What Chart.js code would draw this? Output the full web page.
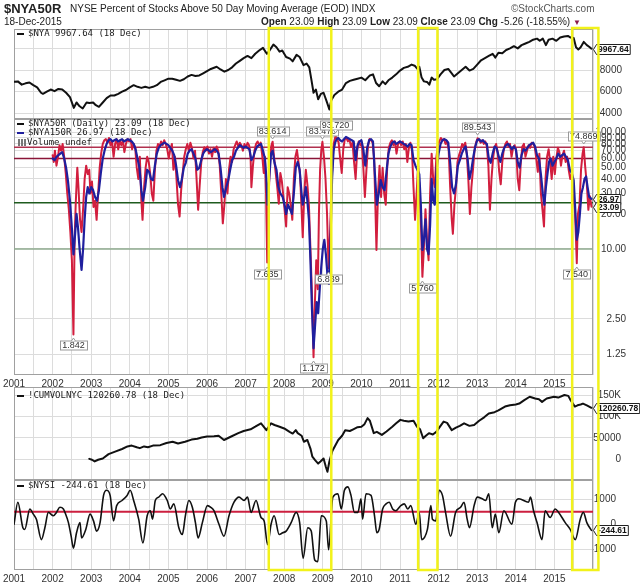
<!DOCTYPE html>
<html>
<head>
<meta charset="utf-8">
<script src="https://cdn.jsdelivr.net/npm/chart.js@4.4.1/dist/chart.umd.min.js"></script>
<style>
body { margin: 0; background: #fff; }
#wrap { position: relative; width: 640px; height: 584px; overflow: hidden; background: #fff;
        font-family: 'Liberation Sans', Arial, sans-serif; color: #222; }
canvas { position: absolute; left: 0; }
.t { position: absolute; white-space: nowrap; line-height: 10px; font-size: 10px; }
.leg { position: absolute; white-space: nowrap; font: 9px/9px 'DejaVu Sans Mono', monospace; color: #222; }
.dash { display: inline-block; width: 7px; height: 2px; background: #111; vertical-align: middle; margin-right: 4px; }
.vol { display: inline-block; width: 8px; height: 7px; margin-right: 1px; vertical-align: -1px;
       background: linear-gradient(90deg, #777 0 2px, transparent 2px 3px, #777 3px 5px, transparent 5px 6px, #777 6px 8px); }
</style>
</head>
<body>
<div id="wrap">
  <canvas id="c1"></canvas>
  <canvas id="c2"></canvas>
  <canvas id="c3"></canvas>
  <canvas id="c4"></canvas>
  <canvas id="ov" width="640" height="584" style="top:0"></canvas>

  <div class="t" style="left:4px;top:2px;font-size:13px;line-height:13px;font-weight:bold;">$NYA50R</div>
  <div class="t" style="left:70px;top:4px;">NYSE Percent of Stocks Above 50 Day Moving Average (EOD) INDX</div>
  <div class="t" style="left:511px;top:4px;color:#555;">©StockCharts.com</div>
  <div class="t" style="left:4px;top:17px;">18-Dec-2015</div>
  <div class="t" style="left:261px;top:17px;"><b>Open</b> 23.09 <b>High</b> 23.09 <b>Low</b> 23.09 <b>Close</b> 23.09 <b>Chg</b> -5.26 (-18.55%) <span style="color:#8b1a4a;font-size:8px">▼</span></div>

  <div class="leg" style="left:17px;top:29px;"><span class="dash"></span>$NYA 9967.64 (18 Dec)</div>
  <div class="leg" style="left:17px;top:119px;"><span class="dash"></span>$NYA50R (Daily) 23.09 (18 Dec)</div>
  <div class="leg" style="left:17px;top:128px;"><span class="dash" style="background:#1f1f9e"></span>$NYA150R 26.97 (18 Dec)</div>
  <div class="leg" style="left:18px;top:138px;"><span class="vol"></span>Volume undef</div>
  <div class="leg" style="left:17px;top:391px;"><span class="dash"></span>!CUMVOLNYC 120260.78 (18 Dec)</div>
  <div class="leg" style="left:17px;top:481px;"><span class="dash"></span>$NYSI -244.61 (18 Dec)</div>
</div>

<script>
// ---- data ----
const yearTicks = [2001, 2002, 2003, 2004, 2005, 2006, 2007, 2008, 2009, 2010, 2011, 2012, 2013, 2014, 2015, 2016];
const yearLabels = ['2001', '2002', '2003', '2004', '2005', '2006', '2007', '2008', '2009', '2010', '2011', '2012', '2013', '2014', '2015', ''];

// $NYA
const nyaYears = [
  2001.00, 2001.10, 2001.20, 2001.30, 2001.40, 2001.50, 2001.60, 2001.70, 2001.75, 2001.85, 2001.95,
  2002.05, 2002.15, 2002.25, 2002.35, 2002.45, 2002.55, 2002.62, 2002.70, 2002.78, 2002.88, 2002.95,
  2003.05, 2003.12, 2003.20, 2003.30, 2003.40, 2003.50, 2003.60, 2003.70, 2003.80, 2003.90,
  2004.00, 2004.10, 2004.20, 2004.30, 2004.40, 2004.50, 2004.60, 2004.70, 2004.80, 2004.90,
  2005.00, 2005.10, 2005.20, 2005.30, 2005.40, 2005.50, 2005.60, 2005.70, 2005.80, 2005.90,
  2006.00, 2006.10, 2006.25, 2006.35, 2006.45, 2006.55, 2006.65, 2006.75, 2006.85, 2006.95,
  2007.05, 2007.15, 2007.25, 2007.35, 2007.45, 2007.55, 2007.62, 2007.72, 2007.80, 2007.88, 2007.95,
  2008.05, 2008.15, 2008.22, 2008.32, 2008.40, 2008.50, 2008.58, 2008.65, 2008.70, 2008.76, 2008.82, 2008.88, 2008.95,
  2009.02, 2009.10, 2009.17, 2009.22, 2009.30, 2009.40, 2009.50, 2009.60, 2009.70, 2009.80, 2009.90,
  2010.00, 2010.10, 2010.22, 2010.30, 2010.38, 2010.46, 2010.55, 2010.62, 2010.70, 2010.80, 2010.90,
  2011.00, 2011.10, 2011.20, 2011.30, 2011.38, 2011.45, 2011.50, 2011.56, 2011.62, 2011.70, 2011.76, 2011.82, 2011.88, 2011.96,
  2012.05, 2012.15, 2012.25, 2012.35, 2012.40, 2012.50, 2012.60, 2012.70, 2012.80, 2012.90,
  2013.00, 2013.10, 2013.20, 2013.30, 2013.40, 2013.47, 2013.55, 2013.65, 2013.75, 2013.85, 2013.95,
  2014.05, 2014.15, 2014.25, 2014.35, 2014.45, 2014.55, 2014.62, 2014.70, 2014.78, 2014.85, 2014.95,
  2015.05, 2015.15, 2015.25, 2015.35, 2015.42, 2015.50, 2015.56, 2015.62, 2015.68, 2015.76, 2015.84, 2015.90, 2015.96
];
const nyaValues = [
  6920, 6950, 6650, 6770, 6850, 6600, 6400, 5900, 5800, 6000, 6200,
  6050, 6250, 6200, 5900, 5500, 4500, 5000, 4650, 4450, 5000, 4950,
  5000, 4750, 4600, 5000, 5400, 5650, 5650, 5800, 6000, 6150,
  6400, 6600, 6450, 6350, 6450, 6350, 6450, 6600, 6900, 7050,
  7200, 7200, 7100, 7000, 7150, 7400, 7550, 7450, 7500, 7700,
  7900, 8100, 8300, 8050, 7850, 8000, 8250, 8600, 8850, 9100,
  9300, 9100, 9500, 9800, 10050, 9500, 9800, 10350, 10100, 9700, 9800,
  9200, 9050, 8800, 9400, 9200, 8450, 8600, 8250, 7200, 5900, 6200, 5300, 5800,
  5900, 5100, 4350, 5200, 5700, 6000, 6200, 6800, 7000, 7100, 7200,
  7300, 7050, 7500, 7600, 6800, 6500, 6950, 6700, 7050, 7300, 7600,
  7950, 8200, 8300, 8500, 8400, 8100, 8300, 7300, 6950, 6900, 6650, 7300, 7100, 7150,
  7600, 8000, 8100, 7650, 7400, 7700, 8000, 8300, 7950, 8100,
  8500, 8900, 9100, 9300, 9500, 9150, 9600, 9550, 9850, 10000, 10200,
  10000, 10300, 10450, 10600, 10800, 10900, 10700, 10900, 10300, 10800, 10900,
  10700, 11000, 11100, 11150, 11000, 10950, 10100, 9900, 10100, 10600, 10300, 10150, 9967.64
];

// $NYA50R (red)
const r50Years = [
  2002.00, 2002.03, 2002.06, 2002.10, 2002.14, 2002.18, 2002.22, 2002.26, 2002.30, 2002.34, 2002.38, 2002.42, 2002.46, 2002.50,
  2002.54, 2002.57, 2002.60, 2002.64, 2002.67, 2002.71, 2002.75, 2002.79, 2002.83, 2002.87, 2002.91, 2002.95, 2002.98,
  2003.02, 2003.06, 2003.10, 2003.14, 2003.18, 2003.22, 2003.26, 2003.30, 2003.34, 2003.38, 2003.42, 2003.46, 2003.50,
  2003.54, 2003.58, 2003.62, 2003.66, 2003.70, 2003.74, 2003.78, 2003.82, 2003.86, 2003.90, 2003.94, 2003.98,
  2004.02, 2004.06, 2004.10, 2004.14, 2004.18, 2004.22, 2004.26, 2004.30, 2004.33, 2004.37, 2004.41, 2004.45, 2004.49,
  2004.53, 2004.57, 2004.61, 2004.65, 2004.69, 2004.73, 2004.77, 2004.81, 2004.85, 2004.89, 2004.93, 2004.97,
  2005.01, 2005.05, 2005.09, 2005.13, 2005.17, 2005.21, 2005.25, 2005.29, 2005.33, 2005.37, 2005.41, 2005.45, 2005.49,
  2005.53, 2005.57, 2005.61, 2005.65, 2005.69, 2005.73, 2005.77, 2005.81, 2005.85, 2005.89, 2005.93, 2005.97,
  2006.01, 2006.05, 2006.09, 2006.13, 2006.17, 2006.21, 2006.25, 2006.29, 2006.33, 2006.37, 2006.41, 2006.45, 2006.49,
  2006.53, 2006.57, 2006.61, 2006.65, 2006.69, 2006.73, 2006.77, 2006.81, 2006.85, 2006.89, 2006.93, 2006.97,
  2007.01, 2007.05, 2007.09, 2007.13, 2007.15, 2007.19, 2007.23, 2007.27, 2007.31, 2007.35, 2007.39, 2007.43, 2007.47,
  2007.50, 2007.53, 2007.56, 2007.59, 2007.63, 2007.67, 2007.70, 2007.74, 2007.78, 2007.82, 2007.86, 2007.90, 2007.94, 2007.98,
  2008.02, 2008.05, 2008.09, 2008.13, 2008.17, 2008.21, 2008.25, 2008.29, 2008.33, 2008.37, 2008.41, 2008.45, 2008.48,
  2008.52, 2008.56, 2008.60, 2008.64, 2008.68, 2008.72, 2008.76, 2008.79, 2008.83, 2008.87, 2008.90, 2008.93, 2008.96, 2008.99,
  2009.03, 2009.07, 2009.11, 2009.15, 2009.19, 2009.23, 2009.28, 2009.33, 2009.37, 2009.41, 2009.45, 2009.49,
  2009.53, 2009.57, 2009.61, 2009.65, 2009.69, 2009.73, 2009.77, 2009.81, 2009.85, 2009.89, 2009.93, 2009.97,
  2010.01, 2010.05, 2010.09, 2010.13, 2010.17, 2010.21, 2010.25, 2010.29, 2010.33, 2010.36, 2010.39, 2010.43, 2010.47,
  2010.51, 2010.55, 2010.59, 2010.63, 2010.67, 2010.71, 2010.75, 2010.79, 2010.83, 2010.87, 2010.91, 2010.95, 2010.99,
  2011.03, 2011.07, 2011.11, 2011.15, 2011.19, 2011.23, 2011.27, 2011.31, 2011.35, 2011.39, 2011.43, 2011.47, 2011.51,
  2011.55, 2011.58, 2011.62, 2011.66, 2011.70, 2011.74, 2011.78, 2011.82, 2011.86, 2011.90, 2011.94, 2011.98,
  2012.02, 2012.06, 2012.10, 2012.14, 2012.18, 2012.22, 2012.26, 2012.30, 2012.34, 2012.37, 2012.41, 2012.45, 2012.49,
  2012.53, 2012.57, 2012.61, 2012.65, 2012.69, 2012.73, 2012.77, 2012.81, 2012.85, 2012.89, 2012.93, 2012.97,
  2013.01, 2013.05, 2013.09, 2013.13, 2013.17, 2013.21, 2013.25, 2013.29, 2013.33, 2013.37, 2013.41, 2013.45, 2013.49,
  2013.53, 2013.57, 2013.61, 2013.65, 2013.69, 2013.73, 2013.77, 2013.81, 2013.85, 2013.89, 2013.93, 2013.97,
  2014.01, 2014.05, 2014.09, 2014.13, 2014.17, 2014.21, 2014.25, 2014.29, 2014.33, 2014.37, 2014.41, 2014.45, 2014.49,
  2014.53, 2014.57, 2014.61, 2014.65, 2014.69, 2014.73, 2014.77, 2014.81, 2014.85, 2014.89, 2014.93, 2014.97,
  2015.01, 2015.05, 2015.09, 2015.13, 2015.17, 2015.21, 2015.25, 2015.29, 2015.33, 2015.37, 2015.41, 2015.45, 2015.49,
  2015.53, 2015.56, 2015.58, 2015.61, 2015.65, 2015.69, 2015.73, 2015.76, 2015.80, 2015.84, 2015.88, 2015.92, 2015.96
];
const r50Values = [
  64, 56, 70, 52, 62, 78, 70, 80, 62, 45, 30, 22, 14, 8,
  1.842, 12, 25, 50, 34, 18, 14, 22, 40, 52, 44, 48, 30,
  38, 23, 26, 17.8, 30, 50, 67, 80, 86, 88, 82, 90, 78,
  84, 62, 80, 88, 72, 85, 78, 86, 68, 80, 88, 84,
  88, 72, 80, 74, 50, 40, 62, 26, 17.8, 34, 50, 62, 56,
  44, 30, 26, 48, 70, 80, 76, 84, 78, 86, 80, 72,
  60, 72, 80, 48, 62, 40, 24, 19, 32, 45, 62, 72, 80,
  70, 82, 74, 60, 70, 40, 21.7, 35, 55, 68, 75, 70,
  76, 66, 72, 62, 74, 68, 76, 70, 52, 30, 16.6, 24, 40,
  30, 48, 62, 56, 72, 78, 84, 76, 82, 78, 70, 80,
  74, 82, 78, 60, 34, 52, 70, 80, 84, 78, 82, 64, 45,
  62, 30, 7.635, 24, 56, 78, 83.614, 60, 45, 34, 24.5, 45, 38, 28,
  20, 15.6, 34, 30, 24, 17.8, 40, 62, 71, 56, 44, 22, 12.6,
  30, 48, 36, 24, 10, 4, 1.172, 3, 8, 4.5, 20, 48, 70, 83.47,
  62, 40, 20, 6.839, 14, 40, 80, 93.72, 88, 82, 60, 45,
  72, 88, 90, 84, 88, 76, 82, 56, 40, 70, 84, 78,
  82, 50, 28, 48, 76, 88, 86, 82, 60, 25, 9.8, 30, 52,
  28, 50, 30, 24, 52, 74, 82, 86, 78, 84, 66, 80, 84,
  78, 84, 72, 80, 56, 74, 82, 70, 34, 17.8, 30, 52, 30,
  14, 5.76, 10.4, 22, 12, 8, 30, 66, 40, 34, 60, 78,
  84, 90, 86, 88, 80, 84, 72, 34, 18, 13.5, 24, 34, 56,
  64, 70, 80, 76, 82, 66, 40, 20, 34, 48, 70, 82,
  89.543, 86, 82, 86, 80, 84, 76, 52, 21.7, 40, 60, 74, 80,
  68, 46, 36, 56, 72, 80, 84, 76, 80, 62, 74, 78,
  70, 40, 32, 56, 76, 80, 62, 70, 78, 74, 82, 80, 76,
  60, 46, 66, 30, 22, 15.6, 40, 62, 72, 56, 40, 62,
  44, 60, 74, 68, 52, 64, 70, 56, 62, 48, 40, 44, 30,
  22, 12, 7.54, 20, 24, 48, 66, 74.869, 50, 36, 21.7, 28.35, 23.09
];

// $NYA150R (blue)
const r150Years = [
  2002.00, 2002.05, 2002.10, 2002.15, 2002.20, 2002.25, 2002.30, 2002.35, 2002.40, 2002.45, 2002.50,
  2002.54, 2002.58, 2002.62, 2002.66, 2002.70, 2002.75, 2002.79, 2002.83, 2002.87, 2002.91, 2002.95,
  2003.00, 2003.05, 2003.10, 2003.15, 2003.20, 2003.25, 2003.30, 2003.35, 2003.40, 2003.45,
  2003.50, 2003.55, 2003.60, 2003.65, 2003.70, 2003.75, 2003.80, 2003.85, 2003.90, 2003.95,
  2004.00, 2004.05, 2004.10, 2004.15, 2004.20, 2004.25, 2004.30, 2004.34, 2004.40, 2004.45,
  2004.50, 2004.55, 2004.60, 2004.65, 2004.70, 2004.75, 2004.80, 2004.85, 2004.90, 2004.95,
  2005.00, 2005.05, 2005.10, 2005.15, 2005.20, 2005.25, 2005.30, 2005.35, 2005.40, 2005.45,
  2005.50, 2005.55, 2005.60, 2005.65, 2005.70, 2005.75, 2005.80, 2005.85, 2005.90, 2005.95,
  2006.00, 2006.05, 2006.10, 2006.15, 2006.20, 2006.25, 2006.30, 2006.35, 2006.40, 2006.44,
  2006.50, 2006.55, 2006.60, 2006.65, 2006.70, 2006.75, 2006.80, 2006.85, 2006.90, 2006.95,
  2007.00, 2007.05, 2007.10, 2007.15, 2007.20, 2007.25, 2007.30, 2007.35, 2007.40, 2007.45, 2007.50,
  2007.54, 2007.57, 2007.61, 2007.66, 2007.70, 2007.75, 2007.80, 2007.85, 2007.90, 2007.96,
  2008.01, 2008.05, 2008.10, 2008.15, 2008.20, 2008.25, 2008.30, 2008.35, 2008.40, 2008.45, 2008.48, 2008.52,
  2008.56, 2008.60, 2008.64, 2008.68, 2008.72, 2008.76, 2008.80, 2008.84, 2008.88, 2008.92, 2008.96,
  2009.00, 2009.04, 2009.08, 2009.12, 2009.16, 2009.20, 2009.24, 2009.28, 2009.32, 2009.36, 2009.40,
  2009.45, 2009.50, 2009.55, 2009.60, 2009.65, 2009.70, 2009.75, 2009.80, 2009.85, 2009.90, 2009.95,
  2010.00, 2010.05, 2010.10, 2010.15, 2010.20, 2010.25, 2010.30, 2010.35, 2010.40, 2010.45,
  2010.50, 2010.55, 2010.60, 2010.65, 2010.70, 2010.75, 2010.80, 2010.85, 2010.90, 2010.95,
  2011.00, 2011.05, 2011.10, 2011.15, 2011.20, 2011.25, 2011.30, 2011.35, 2011.40, 2011.45, 2011.50,
  2011.54, 2011.58, 2011.62, 2011.66, 2011.70, 2011.74, 2011.78, 2011.82, 2011.86, 2011.90, 2011.95,
  2012.00, 2012.05, 2012.10, 2012.15, 2012.20, 2012.25, 2012.30, 2012.35, 2012.40, 2012.45,
  2012.50, 2012.55, 2012.60, 2012.65, 2012.70, 2012.75, 2012.80, 2012.85, 2012.90, 2012.95,
  2013.00, 2013.05, 2013.10, 2013.15, 2013.20, 2013.25, 2013.30, 2013.35, 2013.40, 2013.45,
  2013.50, 2013.55, 2013.60, 2013.65, 2013.70, 2013.75, 2013.80, 2013.85, 2013.90, 2013.95,
  2014.00, 2014.05, 2014.10, 2014.15, 2014.20, 2014.25, 2014.30, 2014.35, 2014.40, 2014.45, 2014.50,
  2014.55, 2014.60, 2014.65, 2014.70, 2014.74, 2014.78, 2014.82, 2014.86, 2014.90, 2014.95,
  2015.00, 2015.05, 2015.10, 2015.15, 2015.20, 2015.25, 2015.30, 2015.35, 2015.40, 2015.45, 2015.50,
  2015.54, 2015.58, 2015.62, 2015.66, 2015.70, 2015.74, 2015.78, 2015.82, 2015.86, 2015.90, 2015.96
];
const r150Values = [
  60, 58, 62, 64, 66, 68, 60, 50, 38, 26, 15,
  9, 13, 20, 15, 10, 6.6, 10, 18, 28, 34, 30,
  34, 32, 28, 26, 32, 45, 60, 71, 80, 86,
  88, 84, 86, 88, 84, 86, 88, 84, 86, 88,
  86, 84, 80, 72, 60, 50, 32, 26, 34, 48,
  46, 40, 39, 52, 66, 74, 78, 80, 82, 80,
  78, 74, 70, 64, 52, 39, 34, 40, 50, 55,
  66, 70, 72, 66, 60, 48, 50, 58, 66, 70,
  72, 70, 68, 70, 72, 70, 66, 50, 34, 28,
  34, 39, 48, 58, 62, 70, 74, 78, 76, 74,
  76, 74, 72, 58, 62, 70, 76, 78, 80, 70, 60,
  40, 24, 40, 66, 70, 55, 48, 34, 30, 28,
  24, 20, 24, 22, 20, 30, 50, 56, 48, 30, 24, 28,
  34, 26, 18, 8, 3, 1.4, 2.2, 3.5, 2.8, 4.5, 7,
  10, 12, 9, 6, 5, 12, 40, 70, 82, 88, 90,
  86, 84, 88, 92, 90, 88, 86, 84, 58, 78, 84,
  86, 72, 52, 74, 86, 88, 84, 44, 24, 30,
  39, 34, 32, 46, 66, 76, 82, 84, 80, 82,
  84, 82, 80, 78, 76, 80, 78, 58, 52, 48, 44,
  24, 9.8, 12, 18, 10, 9, 16, 40, 26, 24, 50,
  66, 80, 86, 88, 86, 82, 55, 34, 30, 36,
  52, 58, 66, 72, 76, 60, 40, 48, 62, 76,
  86, 88, 84, 86, 82, 80, 60, 55, 66, 76,
  74, 64, 56, 66, 74, 78, 80, 76, 72, 76,
  72, 56, 50, 64, 72, 70, 74, 78, 80, 82, 76,
  64, 60, 44, 30, 24, 34, 44, 56, 60, 52,
  56, 60, 66, 62, 64, 66, 62, 58, 48, 45, 39,
  22, 12, 14, 20, 30, 34, 40, 42, 34, 28, 26.97
];

// reference levels on the percent panel
const refLevels = [75, 60, 25, 10];
const refColors = ['#b0304e', '#8a1538', '#1e5b1e', '#8fab8f'];

// annotated highs / lows of $NYA50R
const peakYears = [2002.54, 2007.56, 2007.70, 2008.76, 2008.99, 2009.15, 2009.33, 2011.58, 2013.01, 2015.58, 2015.76];
const peakValues = [1.842, 7.635, 83.614, 1.172, 83.470, 6.839, 93.720, 5.760, 89.543, 7.540, 74.869];

// !CUMVOLNYC
const cvYears = [
  2002.95, 2003.02, 2003.09, 2003.18, 2003.30, 2003.45, 2003.62, 2003.80, 2003.94,
  2004.05, 2004.18, 2004.26, 2004.37, 2004.47, 2004.60, 2004.79, 2004.95,
  2005.11, 2005.25, 2005.43, 2005.60, 2005.75, 2005.86,
  2006.00, 2006.18, 2006.30, 2006.44, 2006.60, 2006.81, 2006.95,
  2007.13, 2007.25, 2007.40, 2007.54, 2007.66, 2007.75, 2007.88,
  2008.00, 2008.14, 2008.22, 2008.30, 2008.35, 2008.45, 2008.51, 2008.60, 2008.68, 2008.73, 2008.80, 2008.88, 2008.94,
  2009.02, 2009.08, 2009.12, 2009.17, 2009.25, 2009.31, 2009.40, 2009.50, 2009.58, 2009.70, 2009.79, 2009.90,
  2010.00, 2010.08, 2010.16, 2010.22, 2010.32, 2010.40, 2010.53, 2010.65, 2010.80, 2010.90,
  2011.01, 2011.10, 2011.22, 2011.35, 2011.44, 2011.52, 2011.60, 2011.67, 2011.75, 2011.85, 2011.94,
  2012.05, 2012.13, 2012.22, 2012.34, 2012.45, 2012.55, 2012.66, 2012.80, 2012.92,
  2013.05, 2013.18, 2013.30, 2013.45, 2013.55, 2013.72, 2013.85,
  2014.00, 2014.09, 2014.22, 2014.36, 2014.50, 2014.60, 2014.68, 2014.80, 2014.99,
  2015.10, 2015.26, 2015.36, 2015.42, 2015.53, 2015.60, 2015.68, 2015.74, 2015.84, 2015.96
];
const cvValues = [
  1000, -1000, -5000, -1000, 2000, 12000, 18000, 24000, 30000,
  32000, 28000, 26000, 30000, 28000, 32000, 33000, 38000,
  41000, 37000, 41000, 46000, 48000, 51000,
  53000, 54000, 55000, 45000, 52000, 61000, 66000,
  70000, 76000, 84000, 68000, 84000, 80000, 76000,
  72000, 64000, 60000, 68000, 61000, 55000, 41000, 45000, 25000, 6000, -2000, -10000, -5000,
  2000, -18000, -29000, -5000, 20000, 30000, 45000, 55000, 68000, 66000, 70000, 75000,
  76000, 82000, 96000, 90000, 61000, 64000, 57000, 65000, 76000, 84000,
  92000, 90000, 88000, 90000, 76000, 70000, 49000, 55000, 61000, 58000, 64000,
  78000, 88000, 85000, 68000, 74000, 78000, 84000, 78000, 80000,
  90000, 98000, 107000, 110000, 114000, 123000, 126000,
  128000, 130000, 138000, 146000, 142000, 140000, 134000, 142000, 146000,
  144000, 150000, 148000, 138000, 123000, 126000, 128000, 130000, 126000, 120260.78
];

// $NYSI
const nysiYears = [
  2001.00, 2001.10, 2001.23, 2001.28, 2001.41, 2001.50, 2001.58, 2001.71, 2001.80, 2001.89,
  2002.02, 2002.10, 2002.19, 2002.28, 2002.32, 2002.41, 2002.48, 2002.54, 2002.62, 2002.71, 2002.75, 2002.86, 2002.97,
  2003.06, 2003.14, 2003.23, 2003.32, 2003.40, 2003.49, 2003.58, 2003.66, 2003.80, 2003.93,
  2004.01, 2004.10, 2004.23, 2004.34, 2004.45, 2004.53, 2004.59, 2004.66, 2004.75, 2004.85, 2004.97,
  2005.05, 2005.14, 2005.27, 2005.36, 2005.44, 2005.53, 2005.62, 2005.70, 2005.77, 2005.88,
  2006.01, 2006.10, 2006.18, 2006.31, 2006.44, 2006.57, 2006.70, 2006.83, 2006.96,
  2007.05, 2007.14, 2007.27, 2007.40, 2007.48, 2007.57, 2007.66, 2007.74, 2007.87, 2007.96,
  2008.05, 2008.18, 2008.31, 2008.40, 2008.49, 2008.61, 2008.70, 2008.79, 2008.87, 2008.96,
  2009.09, 2009.15, 2009.26, 2009.39, 2009.48, 2009.56, 2009.65, 2009.73, 2009.82, 2009.91, 2009.99,
  2010.03, 2010.12, 2010.25, 2010.34, 2010.40, 2010.46, 2010.55, 2010.64, 2010.72, 2010.81, 2010.89,
  2011.02, 2011.11, 2011.20, 2011.28, 2011.41, 2011.50, 2011.56, 2011.71, 2011.80, 2011.84, 2011.93,
  2012.01, 2012.10, 2012.18, 2012.31, 2012.44, 2012.57, 2012.66, 2012.74, 2012.80, 2012.92,
  2013.00, 2013.13, 2013.22, 2013.30, 2013.39, 2013.47, 2013.56, 2013.69, 2013.90, 2013.99,
  2014.08, 2014.33, 2014.38, 2014.46, 2014.55, 2014.68, 2014.76, 2014.89,
  2015.02, 2015.11, 2015.28, 2015.41, 2015.54, 2015.67, 2015.75, 2015.84, 2015.96
];
const nysiValues = [
  0, 884, -136, -204, 612, 408, 204, -612, -136, 476,
  340, 476, 680, 612, 476, 68, -476, -952, -340, 68, -544, -204, 408,
  136, -272, 68, 1156, 1360, 1156, 136, 748, 952, 1156,
  1360, 952, 204, -748, 340, 544, 204, 952, 1088, 1224, 952,
  612, 816, -136, -408, 340, 952, 680, 68, -544, 68,
  748, 680, 544, 0, -476, 340, 884, 1088, 952,
  1088, 476, 952, 272, 136, -816, 0, 340, -408, -340,
  -272, 68, 476, 68, -1360, -136, -272, -1428, -1496, 340,
  136, -1020, 1088, 1224, 612, 1360, 1496, 1156, 476, 476, 1020,
  204, 1224, 1156, 340, -340, -204, 612, 816, 884, 612, 544,
  748, 816, 612, 748, 0, 476, -612, -204, 748, 204, 136,
  1360, 1156, 476, -476, 476, 680, 884, 204, -136, 748,
  1088, 1020, 952, 1224, -136, 408, -340, 544, 0, 884,
  1020, 884, 1088, 544, 68, -612, 544, 272,
  612, 476, 68, -204, -612, 204, 476, 68, -244.61
];
const nysiSignal = 500;

// y ticks per panel
const nyaTicks = [4000, 6000, 8000, 10000];
const nyaTickLabels = ['4000', '6000', '8000', ''];
const pctTicks = [1.25, 2.5, 10, 20, 30, 40, 50, 60, 70, 80, 90, 100];
const cvTicks = [0, 50000, 100000, 150000];
const cvTickLabels = ['0', '50000', '100K', '150K'];
const nysiTicks = [-1000, 0, 1000];
const nysiTickLabels = ['-1000', '0', '1000'];

// highlighted periods (yellow boxes)
const boxStarts = [2007.60, 2011.47, 2015.46];
const boxEnds = [2009.22, 2011.97, 2016.14];

// ---- drawing ----
const FONT = "'Liberation Sans', Arial, sans-serif";
Chart.defaults.font.family = FONT;
Chart.defaults.font.size = 10;
Chart.defaults.color = '#333';
const GRID = '#dcdcdc';
const PLOT_LEFT = 14, PLOT_RIGHT = 593;

function pts(xs, ys) {
  return xs.map((x, i) => ({ x: x, y: ys[i] }));
}
function hline(v) {
  return [{ x: yearTicks[0], y: v }, { x: yearTicks[yearTicks.length - 1], y: v }];
}

const framePlugin = {
  id: 'frame',
  beforeDatasetsDraw(chart) {
    const a = chart.chartArea, ctx = chart.ctx;
    ctx.save();
    ctx.strokeStyle = '#a0a0a0';
    ctx.lineWidth = 1;
    ctx.strokeRect(a.left + 0.5, a.top + 0.5, a.width - 1, a.height - 1);
    ctx.restore();
  }
};

const lastBoxPlugin = {
  id: 'lastBox',
  afterDraw(chart, args, opts) {
    const ctx = chart.ctx, sy = chart.scales.y, x0 = chart.chartArea.right;
    (opts.items || []).forEach(it => {
      const py = Math.round(sy.getPixelForValue(it.value)) + 0.5;
      ctx.save();
      ctx.font = 'bold 8.5px ' + FONT;
      const w = ctx.measureText(it.text).width + 3, h = 10;
      const left = x0 + 3.5;
      ctx.beginPath();
      ctx.moveTo(x0 + 0.5, py);
      ctx.lineTo(left, py - h / 2);
      ctx.lineTo(left + w, py - h / 2);
      ctx.lineTo(left + w, py + h / 2);
      ctx.lineTo(left, py + h / 2);
      ctx.closePath();
      ctx.fillStyle = '#fff';
      ctx.fill();
      ctx.strokeStyle = '#222';
      ctx.lineWidth = 1;
      ctx.stroke();
      ctx.fillStyle = '#111';
      ctx.textBaseline = 'middle';
      ctx.fillText(it.text, left + 1.5, py + 0.5);
      ctx.restore();
    });
  }
};

const peakPlugin = {
  id: 'peaks',
  afterDatasetsDraw(chart) {
    const ctx = chart.ctx, sx = chart.scales.x, sy = chart.scales.y;
    ctx.save();
    ctx.font = '9px ' + FONT;
    ctx.textBaseline = 'middle';
    ctx.textAlign = 'center';
    peakYears.forEach((yr, i) => {
      const v = peakValues[i];
      const px = sx.getPixelForValue(yr), py = sy.getPixelForValue(v);
      const up = v > 50;
      const cy = Math.round(py + (up ? -11 : 11)) + 0.5;
      const w = Math.ceil(ctx.measureText(v.toFixed(3)).width) + 4, h = 9;
      const bx = Math.round(px - w / 2) + 0.5;
      ctx.fillStyle = '#fff';
      ctx.strokeStyle = '#999';
      ctx.lineWidth = 1;
      ctx.fillRect(bx, cy - h / 2, w, h);
      ctx.strokeRect(bx, cy - h / 2, w, h);
      // small pointer toward the point
      ctx.beginPath();
      const edge = up ? cy + h / 2 : cy - h / 2;
      ctx.moveTo(px - 2, edge);
      ctx.lineTo(px, edge + (up ? 3 : -3));
      ctx.lineTo(px + 2, edge);
      ctx.fillStyle = '#fff';
      ctx.fill();
      ctx.stroke();
      ctx.fillStyle = '#333';
      ctx.fillText(v.toFixed(3), px, cy + 0.5);
    });
    ctx.restore();
  }
};

function xScale(showYears, labelHeight) {
  return {
    type: 'linear',
    min: yearTicks[0],
    max: yearTicks[yearTicks.length - 1],
    afterBuildTicks: s => {
      const t = [];
      yearTicks.forEach((y, i) => {
        t.push({ value: y });
        if (i < yearTicks.length - 1) t.push({ value: y + 0.5 });
      });
      s.ticks = t;
    },
    afterFit: s => {
      s.height = labelHeight;
      s.paddingLeft = 0;
      s.paddingRight = 0;
    },
    ticks: {
      display: showYears,
      autoSkip: false,
      maxRotation: 0,
      minRotation: 0,
      padding: 3,
      color: '#333',
      font: { size: 10 },
      callback: v => {
        const i = yearTicks.indexOf(v);
        return i >= 0 ? yearLabels[i] : '';
      }
    },
    grid: { color: GRID, drawTicks: false, lineWidth: 1 },
    border: { display: false }
  };
}

function yScale(extra, tickVals, labelFn, axisWidth) {
  return Object.assign({
    position: 'right',
    afterBuildTicks: s => { s.ticks = tickVals.map(v => ({ value: v })); },
    afterFit: s => {
      s.width = axisWidth;
      s.paddingTop = 0;
      s.paddingBottom = 0;
    },
    ticks: {
      crossAlign: 'far',
      padding: 0,
      color: '#333',
      font: { size: 10 },
      callback: labelFn
    },
    grid: { color: GRID, drawTicks: false, lineWidth: 1 },
    border: { display: false }
  }, extra);
}

function panel(id, top, height, cfg) {
  const cv = document.getElementById(id);
  cv.width = 640;
  cv.height = height;
  cv.style.top = top + 'px';
  return new Chart(cv, {
    type: 'line',
    data: { datasets: cfg.datasets },
    options: {
      responsive: false,
      animation: false,
      devicePixelRatio: 1,
      layout: { padding: { left: PLOT_LEFT, right: 640 - cfg.labelRight, top: cfg.padTop, bottom: cfg.padBottom } },
      elements: {
        point: { radius: 0 },
        line: { tension: 0, borderJoinStyle: 'round', borderCapStyle: 'round' }
      },
      plugins: {
        legend: { display: false },
        tooltip: { enabled: false },
        lastBox: { items: cfg.boxes }
      },
      scales: {
        x: xScale(cfg.showYears, cfg.showYears ? 12 : 0),
        y: yScale(cfg.y, cfg.ticks, cfg.labelFn, cfg.labelRight - PLOT_RIGHT)
      }
    },
    plugins: [framePlugin, lastBoxPlugin].concat(cfg.plugins || [])
  });
}

const tops = [28, 119, 387, 480];

const c1 = panel('c1', tops[0], 92, {
  padTop: 1, padBottom: 1, showYears: false, labelRight: 622,
  y: { type: 'linear', min: 3475, max: 11790 },
  ticks: nyaTicks,
  labelFn: v => nyaTickLabels[nyaTicks.indexOf(v)],
  boxes: [{ value: nyaValues[nyaValues.length - 1], text: '9967.64' }],
  datasets: [{ data: pts(nyaYears, nyaValues), borderColor: '#111', borderWidth: 2 }]
});

const refSets = refLevels.map((lv, i) => ({
  data: hline(lv), borderColor: refColors[i], borderWidth: 1.5, order: 3
}));

const c2 = panel('c2', tops[1], 270, {
  padTop: 0, padBottom: 2, showYears: true, labelRight: 626,
  y: { type: 'logarithmic', min: 0.825, max: 131 },
  ticks: pctTicks,
  labelFn: v => Number(v).toFixed(2),
  boxes: [
    { value: r150Values[r150Values.length - 1], text: '26.97' },
    { value: r50Values[r50Values.length - 1], text: '23.09' }
  ],
  plugins: [peakPlugin],
  datasets: [
    { data: pts(r150Years, r150Values), borderColor: '#1f1f9e', borderWidth: 2.2, order: 0 },
    { data: pts(r50Years, r50Values), borderColor: '#d21e3e', borderWidth: 2, order: 1 }
  ].concat(refSets)
});

const c3 = panel('c3', tops[2], 93, {
  padTop: 0, padBottom: 0, showYears: false, labelRight: 621,
  y: { type: 'linear', min: -48300, max: 168700 },
  ticks: cvTicks,
  labelFn: v => cvTickLabels[cvTicks.indexOf(v)],
  boxes: [{ value: cvValues[cvValues.length - 1], text: '120260.78' }],
  datasets: [{ data: pts(cvYears, cvValues), borderColor: '#111', borderWidth: 2 }]
});

const c4 = panel('c4', tops[3], 104, {
  padTop: 0, padBottom: 2, showYears: true, labelRight: 616,
  y: { type: 'linear', min: -1828, max: 1772 },
  ticks: nysiTicks,
  labelFn: v => nysiTickLabels[nysiTicks.indexOf(v)],
  boxes: [{ value: nysiValues[nysiValues.length - 1], text: '-244.61' }],
  datasets: [
    { data: pts(nysiYears, nysiValues), borderColor: '#111', borderWidth: 1.6, order: 0,
      cubicInterpolationMode: 'monotone' },
    { data: hline(nysiSignal), borderColor: '#cc1f3f', borderWidth: 2, order: 1 }
  ]
});

// yellow highlight boxes spanning all panels, placed through the shared x scale
const ov = document.getElementById('ov');
const octx = ov.getContext('2d');
const sx = c4.scales.x;
const boxTop = tops[0] + c1.chartArea.top - 1;
const boxBottom = tops[3] + c4.chartArea.bottom;
octx.strokeStyle = '#f2f21a';
octx.lineWidth = 2.5;
boxStarts.forEach((s, i) => {
  const x1 = sx.getPixelForValue(s), x2 = sx.getPixelForValue(boxEnds[i]);
  octx.strokeRect(x1, boxTop, x2 - x1, boxBottom - boxTop);
});
</script>
</body>
</html>
